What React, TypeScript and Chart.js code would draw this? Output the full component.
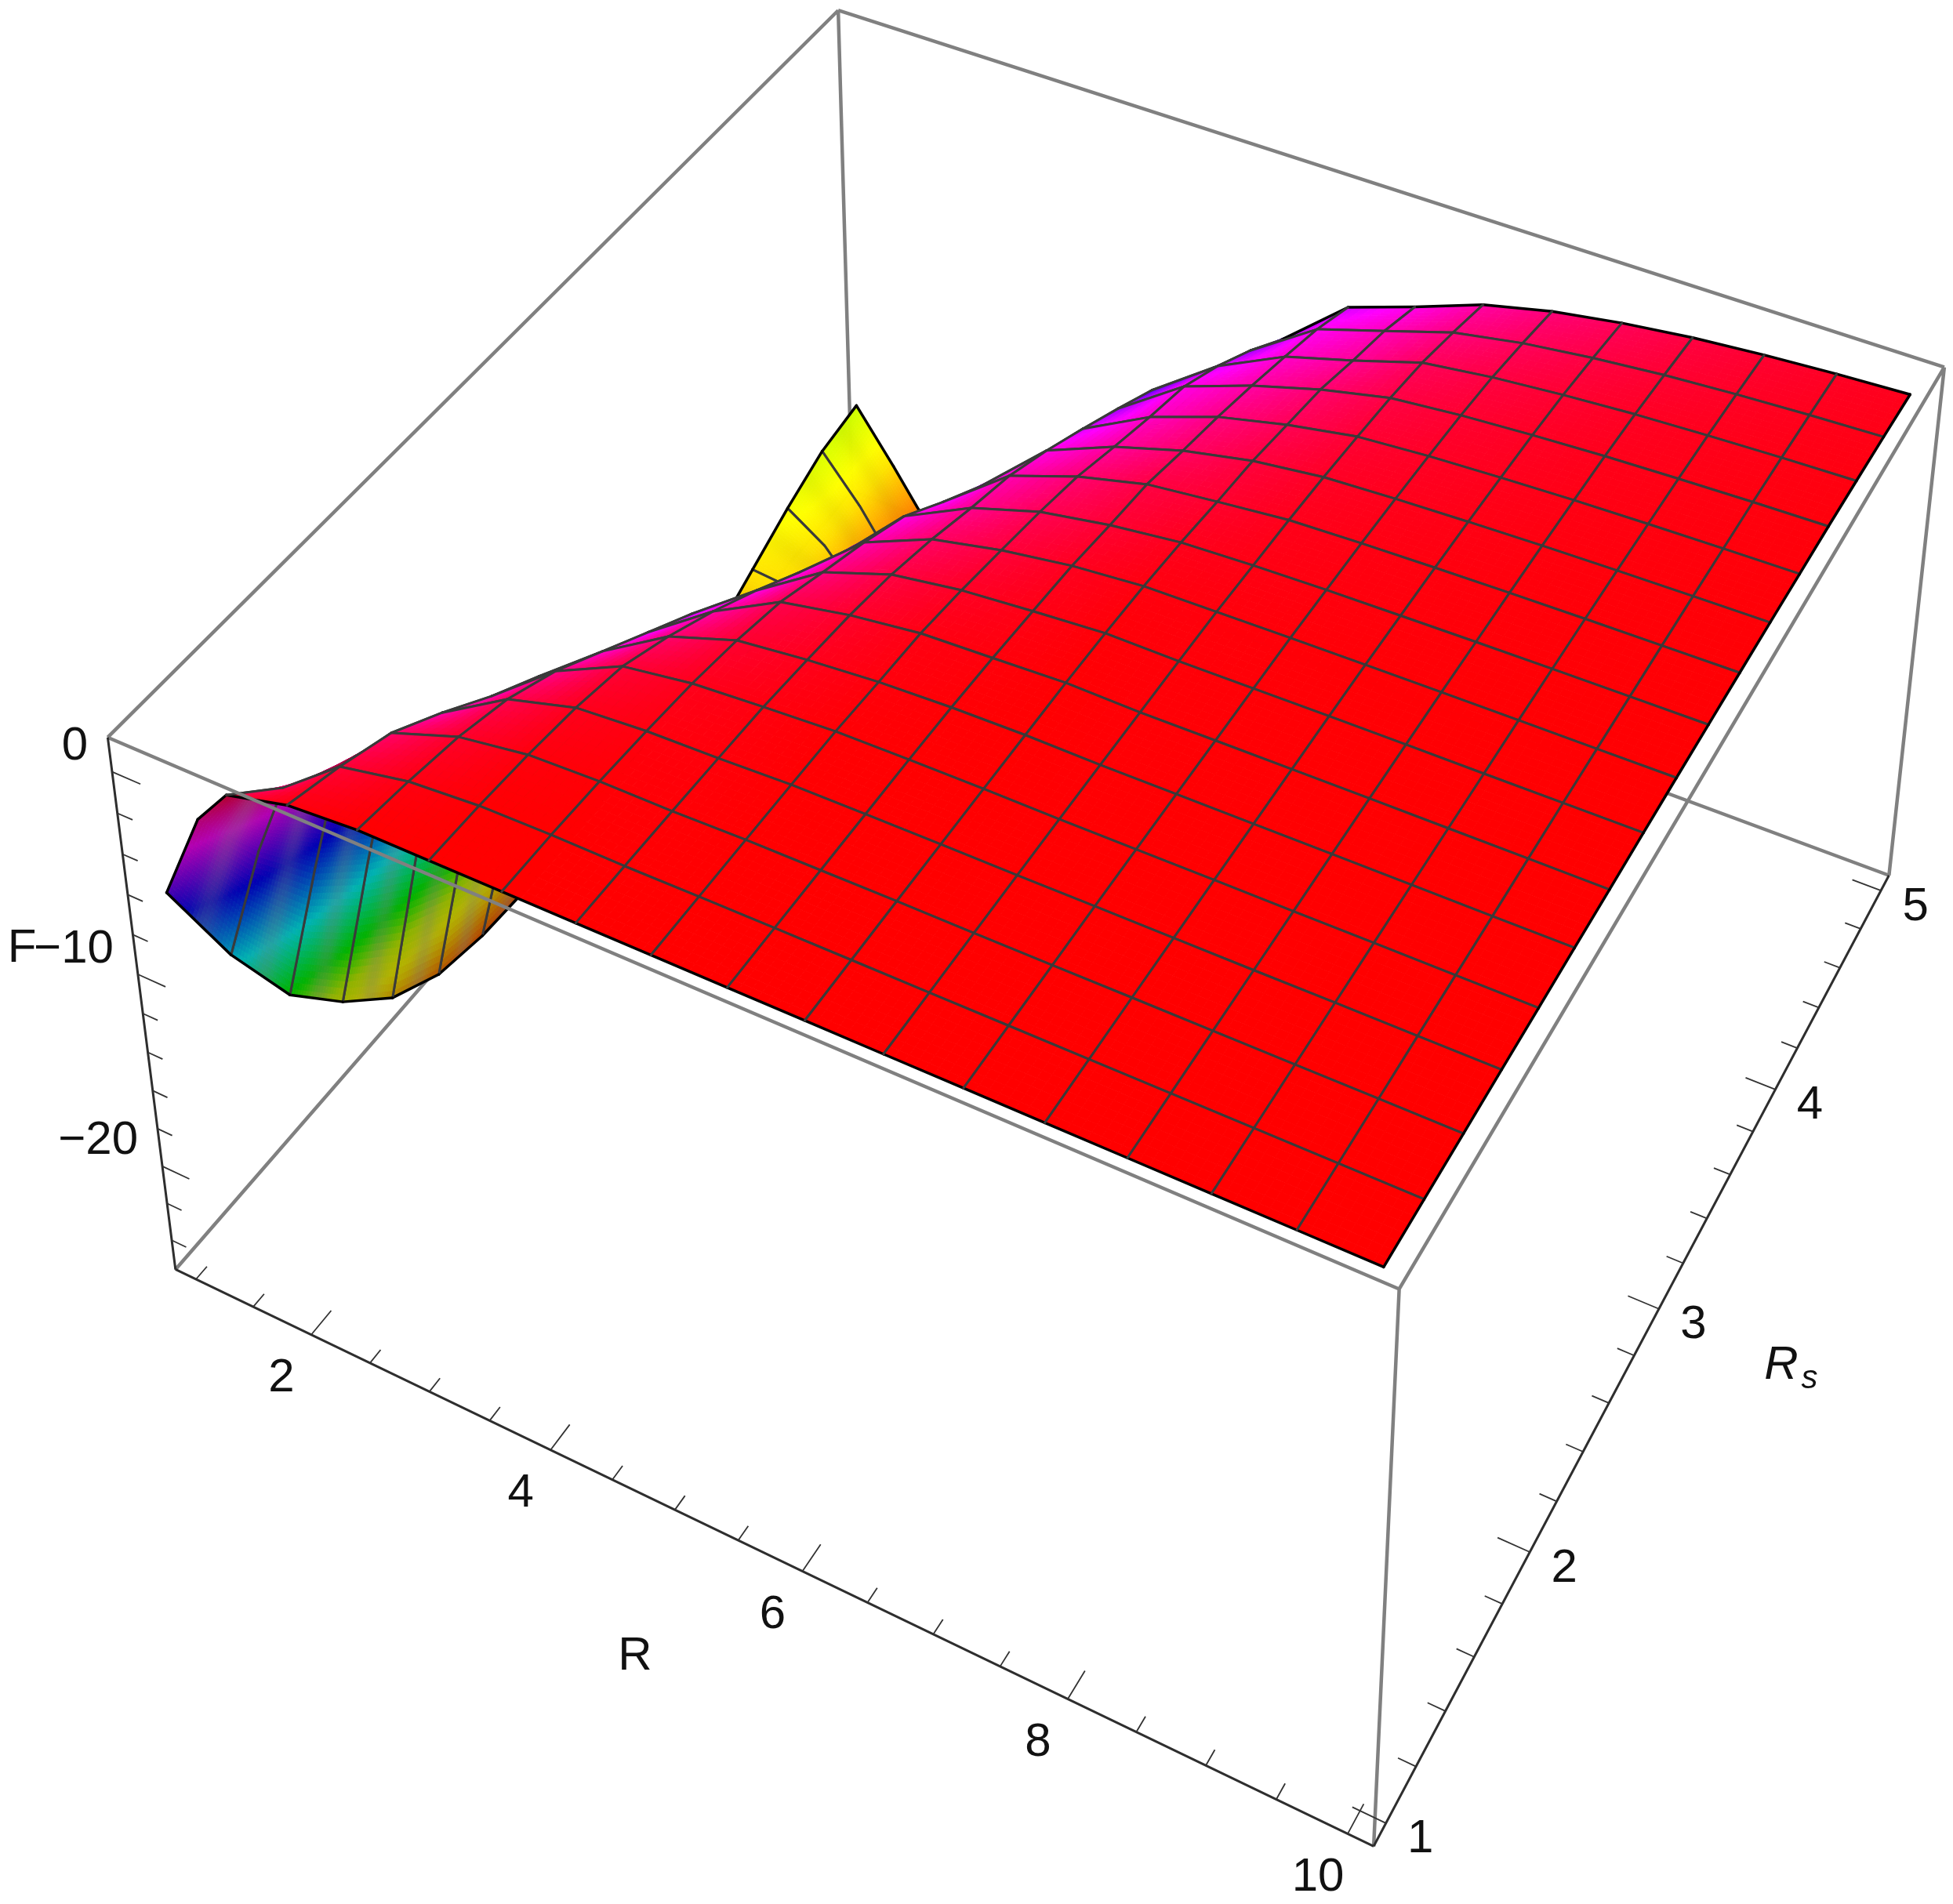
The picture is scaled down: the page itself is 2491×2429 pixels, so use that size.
import React, { useEffect, useRef } from "react";
import { Chart, registerables } from "chart.js";

Chart.register(...registerables);

const WIDTH = 2491;
const HEIGHT = 2429;

// Value ranges of the plot box
const boxR = [0.82, 10.18];
const boxRs = [0.92, 5.08];
const boxF = [-25.6, 1.65];

// Sample positions of the surface
const meshR = [1, 1.35, 1.62, 2.125, 2.6875, 3.25, 3.8125, 4.375, 4.9375, 5.5, 6.0625, 6.625, 7.1875, 7.75, 8.3125, 8.875, 9.4375, 10];
const meshRs = [1, 1.25, 1.5, 1.75, 2, 2.25, 2.5, 2.75, 3, 3.25, 3.5, 3.75, 4, 4.25, 4.5, 4.75, 5];
const unmeshedR = [1.35];

// F, one list per R sample
const fAtR0 = [-6.3, -12.2, -17.1, -20.3, -22.9, -24.4, -25, -25.2, -25.2, -25.2, -24.8, -24.4, -23.2, -22, -20.8, -19.8, -19.4];
const fAtR1 = [-1.8, -6, -9.5, -12, -14, -15.8, -17.2, -18.2, -19.2, -20, -20.7, -21.4, -22, -22.2, -22.2, -22.2, -22.2];
const fAtR2 = [0.06, -2.2, -4, -6, -8, -10, -12, -13.5, -15, -16.5, -18, -20.5, -22, -23.2, -24, -24.5, -24.5];
const fAtR3 = [0.85, 0.09, -0.85, -2.4, -4.1, -5.6, -7.5, -9, -10.6, -12.2, -13.8, -15.4, -17, -18.5, -20, -21.3, -22.5];
const fAtR4 = [1.1, 0.78, 0.34, -0.37, -1.5, -3, -4.5, -6, -7.8, -9.5, -11, -12.6, -14.2, -15.8, -17.4, -19, -20.6];
const fAtR5 = [1.1, 1.04, 0.87, 0.58, 0.08, -0.93, -2.13, -3.5, -5, -6.5, -8, -9.6, -11.2, -12.8, -14.4, -16, -17.6];
const fAtR6 = [1.1, 1.09, 1, 0.83, 0.6, 0.21, -0.35, -1.28, -2.17, -3.2, -4.8, -6.3, -7.7, -9.1, -10.4, -12.8, -14.5];
const fAtR7 = [1.1, 1.06, 1, 0.92, 0.83, 0.6, 0.32, -0.1, -0.73, -1.51, -2.2, -3.2, -4.35, -5.55, -6.8, -8.6, -10.6];
const fAtR8 = [1.1, 1.09, 1.08, 1.06, 1.03, 0.88, 0.76, 0.43, 0.01, -0.44, -0.99, -1.78, -2.52, -3.17, -4.32, -5.7, -7.3];
const fAtR9 = [1.1, 1.1, 1.09, 1.08, 1.07, 1.02, 0.9, 0.72, 0.53, 0.17, -0.13, -0.74, -1.29, -1.93, -2.64, -3.39, -4.39];
const fAtR10 = [1.1, 1.1, 1.1, 1.09, 1.08, 1.07, 1.05, 0.97, 0.83, 0.59, 0.26, -0.01, -0.47, -0.92, -1.65, -2.3, -3.2];
const fAtR11 = [1.1, 1.1, 1.09, 1.08, 1.06, 1.03, 0.99, 0.95, 0.89, 0.75, 0.62, 0.42, 0.16, -0.14, -0.56, -1.2, -1.92];
const fAtR12 = [1.1, 1.1, 1.09, 1.09, 1.07, 1.05, 1.02, 0.99, 0.95, 0.85, 0.75, 0.6, 0.42, 0.2, -0.11, -0.57, -1.1];
const fAtR13 = [1.1, 1.1, 1.1, 1.09, 1.08, 1.06, 1.04, 1.02, 0.99, 0.91, 0.84, 0.73, 0.59, 0.43, 0.2, -0.14, -0.53];
const fAtR14 = [1.1, 1.1, 1.1, 1.09, 1.08, 1.07, 1.06, 1.04, 1.02, 0.96, 0.91, 0.83, 0.73, 0.61, 0.44, 0.19, -0.1];
const fAtR15 = [1.1, 1.1, 1.1, 1.1, 1.09, 1.08, 1.07, 1.05, 1.04, 1, 0.96, 0.9, 0.82, 0.73, 0.6, 0.42, 0.2];
const fAtR16 = [1.1, 1.1, 1.1, 1.1, 1.09, 1.08, 1.08, 1.07, 1.05, 1.02, 0.99, 0.95, 0.89, 0.83, 0.73, 0.59, 0.43];
const fAtR17 = [1.1, 1.1, 1.1, 1.1, 1.09, 1.09, 1.08, 1.08, 1.07, 1.04, 1.02, 0.99, 0.94, 0.9, 0.82, 0.72, 0.6];
const surfaceF = [fAtR0, fAtR1, fAtR2, fAtR3, fAtR4, fAtR5, fAtR6, fAtR7, fAtR8, fAtR9, fAtR10, fAtR11, fAtR12, fAtR13, fAtR14, fAtR15, fAtR16, fAtR17];

// Ticks
const rTicks = [1, 1.5, 2, 2.5, 3, 3.5, 4, 4.5, 5, 5.5, 6, 6.5, 7, 7.5, 8, 8.5, 9, 9.5, 10];
const rLabels = [2, 4, 6, 8, 10];
const rsTicks = [1, 1.2, 1.4, 1.6, 1.8, 2, 2.2, 2.4, 2.6, 2.8, 3, 3.2, 3.4, 3.6, 3.8, 4, 4.2, 4.4, 4.6, 4.8, 5];
const rsLabels = [1, 2, 3, 4, 5];
const fTicks = [0, -2, -4, -6, -8, -10, -12, -14, -16, -18, -20, -22, -24];
const fLabels = [0, -10, -20];

// Colour scale of the surface: hue (0..1) at given F
const colourF = [-27, -25, -22, -19.4, -17, -13, -8, -3.7, 1.1];
const colourHue = [0, 0.06, 0.15, 0.2, 0.33, 0.5, 0.67, 0.83, 1];

// Where the box corners sit in the view: [u, v, w] of the unit box -> axis units of the chart
const viewCalibration: number[][] = [
  [0, 0, 1, 138, 941],
  [0, 0, 0, 223, 1619],
  [1, 0, 1, 1784, 1645],
  [1, 0, 0, 1753, 2355],
  [1, 1, 1, 2480, 468],
  [1, 1, 0, 2409, 1117],
  [0, 1, 1, 1069, 13],
  [0, 1, 0, 1087, 627],
];

function solveCamera(): number[] {
  const n = 11;
  const m = Array.from({ length: n }, () => new Array(n + 1).fill(0));
  const addRow = (row: number[], rhs: number) => {
    for (let a = 0; a < n; a++) {
      for (let b = 0; b < n; b++) m[a][b] += row[a] * row[b];
      m[a][n] += row[a] * rhs;
    }
  };
  for (const [u, v, w, x, y] of viewCalibration) {
    addRow([u, v, w, 1, 0, 0, 0, 0, -x * u, -x * v, -x * w], x);
    addRow([0, 0, 0, 0, u, v, w, 1, -y * u, -y * v, -y * w], y);
  }
  for (let c = 0; c < n; c++) {
    let p = c;
    for (let r = c + 1; r < n; r++) if (Math.abs(m[r][c]) > Math.abs(m[p][c])) p = r;
    [m[c], m[p]] = [m[p], m[c]];
    for (let r = 0; r < n; r++) {
      if (r === c) continue;
      const k = m[r][c] / m[c][c];
      for (let q = c; q <= n; q++) m[r][q] -= k * m[c][q];
    }
  }
  return m.map((row, i) => row[n] / row[i]);
}

const cam = solveCamera();

function project(R: number, Rs: number, F: number) {
  const u = (R - boxR[0]) / (boxR[1] - boxR[0]);
  const v = (Rs - boxRs[0]) / (boxRs[1] - boxRs[0]);
  const w = (F - boxF[0]) / (boxF[1] - boxF[0]);
  const d = cam[8] * u + cam[9] * v + cam[10] * w + 1;
  return {
    x: (cam[0] * u + cam[1] * v + cam[2] * w + cam[3]) / d,
    y: (cam[4] * u + cam[5] * v + cam[6] * w + cam[7]) / d,
  };
}

const GAP = { x: NaN, y: NaN };
const seg = (a: number[], b: number[]) => [project(a[0], a[1], a[2]), project(b[0], b[1], b[2]), GAP];

const [r0, r1] = boxR;
const [s0, s1] = boxRs;
const [f0, f1] = boxF;

const backEdges = [
  ...seg([r0, s0, f1], [r0, s1, f1]),
  ...seg([r0, s1, f1], [r1, s1, f1]),
  ...seg([r0, s1, f1], [r0, s1, f0]),
  ...seg([r0, s0, f0], [r0, s1, f0]),
  ...seg([r0, s1, f0], [r1, s1, f0]),
];
const frontEdges = [
  ...seg([r0, s0, f1], [r1, s0, f1]),
  ...seg([r1, s0, f1], [r1, s1, f1]),
  ...seg([r1, s0, f1], [r1, s0, f0]),
  ...seg([r1, s1, f1], [r1, s1, f0]),
];
const axisLines = [
  ...seg([r0, s0, f1], [r0, s0, f0]),
  ...seg([r0, s0, f0], [r1, s0, f0]),
  ...seg([r1, s0, f0], [r1, s1, f0]),
];
const MAJOR = 0.025;
const MINOR = 0.0135;
const tickLines = [
  ...rTicks.flatMap((t) => seg([t, s0, f0], [t, s0 + (rLabels.includes(t) ? MAJOR : MINOR) * (s1 - s0), f0])),
  ...rsTicks.flatMap((t) => seg([r1, t, f0], [r1 - (rsLabels.includes(t) ? MAJOR : MINOR) * (r1 - r0), t, f0])),
  ...fTicks.flatMap((t) => seg([r0, s0, t], [r0 + (fLabels.includes(t) ? MAJOR : MINOR) * (r1 - r0), s0, t])),
];
const surfaceVertices = meshR.flatMap((R, i) => meshRs.map((Rs, j) => project(R, Rs, surfaceF[i][j])));

function hueOf(F: number) {
  for (let k = 0; k < colourF.length - 1; k++) {
    if (F <= colourF[k + 1]) {
      const t = (F - colourF[k]) / (colourF[k + 1] - colourF[k]);
      return colourHue[k] + t * (colourHue[k + 1] - colourHue[k]);
    }
  }
  return 1;
}

function colourOf(F: number, under: boolean, streak: number) {
  const hue = hueOf(F) * 360;
  if (under) return `hsl(${hue},${100 - 35 * streak}%,${35 + 4 * streak}%)`;
  return `hsl(${hue},100%,${50 - 2 * streak}%)`;
}

const surfacePlugin = {
  id: "surfacePlugin",
  afterDatasetDraw(chart: any, args: any) {
    if (chart.data.datasets[args.index].label !== "surface") return;
    const { ctx } = chart;
    const X = chart.scales.x;
    const Y = chart.scales.y;
    const nJ = meshRs.length;
    const pts = chart.data.datasets[args.index].data.map((p: any) => ({
      x: X.getPixelForValue(p.x),
      y: Y.getPixelForValue(p.y),
    }));
    ctx.save();
    ctx.lineJoin = "round";
    ctx.lineCap = "round";
    const edge = (a: any, b: any, boundary: boolean) => {
      ctx.beginPath();
      ctx.moveTo(a.x, a.y);
      ctx.lineTo(b.x, b.y);
      ctx.strokeStyle = boundary ? "#000000" : "#3a3a3a";
      ctx.lineWidth = boundary ? 3.5 : 3;
      ctx.stroke();
    };
    // far cells first: R grows towards the viewer, Rs shrinks towards the viewer
    for (let i = 0; i < meshR.length - 1; i++) {
      const SUB = i < 2 ? 20 : 8;
      for (let j = nJ - 2; j >= 0; j--) {
        const p00 = pts[i * nJ + j];
        const p01 = pts[i * nJ + j + 1];
        const p10 = pts[(i + 1) * nJ + j];
        const p11 = pts[(i + 1) * nJ + j + 1];
        const area = (p01.x - p00.x) * (p10.y - p00.y) - (p01.y - p00.y) * (p10.x - p00.x);
        const under = area < 0;
        const Fa = surfaceF[i][j], Fb = surfaceF[i][j + 1], Fc = surfaceF[i + 1][j], Fd = surfaceF[i + 1][j + 1];
        const at = (s: number, t: number) => ({
          x: (1 - s) * ((1 - t) * p00.x + t * p01.x) + s * ((1 - t) * p10.x + t * p11.x),
          y: (1 - s) * ((1 - t) * p00.y + t * p01.y) + s * ((1 - t) * p10.y + t * p11.y),
          f: (1 - s) * ((1 - t) * Fa + t * Fb) + s * ((1 - t) * Fc + t * Fd),
        });
        for (let a = 0; a < SUB; a++) {
          for (let b = 0; b < SUB; b++) {
            const q0 = at(a / SUB, b / SUB);
            const q1 = at(a / SUB, (b + 1) / SUB);
            const q2 = at((a + 1) / SUB, (b + 1) / SUB);
            const q3 = at((a + 1) / SUB, b / SUB);
            const tt = (b + 0.5) / SUB;
            const streak = i < 2 ? Math.exp(-(((tt - 0.55) / 0.2) ** 2)) : 0;
            const c = colourOf((q0.f + q1.f + q2.f + q3.f) / 4, under, streak);
            ctx.beginPath();
            ctx.moveTo(q0.x, q0.y);
            ctx.lineTo(q1.x, q1.y);
            ctx.lineTo(q2.x, q2.y);
            ctx.lineTo(q3.x, q3.y);
            ctx.closePath();
            ctx.fillStyle = c;
            ctx.strokeStyle = c;
            ctx.lineWidth = 1;
            ctx.fill();
            ctx.stroke();
          }
        }
        edge(p00, p10, j === 0);
        edge(p01, p11, j === nJ - 2);
        if (i === 0 || !unmeshedR.includes(meshR[i])) edge(p00, p01, i === 0);
        if (!unmeshedR.includes(meshR[i + 1])) edge(p10, p11, i === meshR.length - 2);
      }
    }
    ctx.restore();
  },
};

const labelPlugin = {
  id: "labelPlugin",
  afterDraw(chart: any) {
    const { ctx } = chart;
    const X = chart.scales.x;
    const Y = chart.scales.y;
    const px = (p: { x: number; y: number }) => ({ x: X.getPixelForValue(p.x), y: Y.getPixelForValue(p.y) });
    ctx.save();
    ctx.fillStyle = "#111111";
    ctx.font = '60px "Liberation Sans"';
    ctx.textBaseline = "middle";
    ctx.textAlign = "center";
    for (const t of rLabels) {
      const p = px(project(t, s0, f0));
      ctx.fillText(String(t), p.x - 38, p.y + 56);
    }
    for (const t of rsLabels) {
      const p = px(project(r1, t, f0));
      ctx.fillText(String(t), p.x + 44, p.y + 21);
    }
    ctx.textAlign = "right";
    for (const t of fLabels) {
      const p = px(project(r0, s0, t));
      ctx.fillText(String(t).replace("-", "\u2212"), p.x - 31, p.y - 32);
    }
    ctx.textAlign = "center";
    ctx.fillText("F", 28, 1210);
    ctx.fillText("R", 810, 2113);
    ctx.font = 'italic 60px "Liberation Sans"';
    ctx.fillText("R", 2272, 1742);
    ctx.font = 'italic 42px "Liberation Sans"';
    ctx.fillText("s", 2308, 1759);
    ctx.restore();
  },
};

const line = (label: string, data: any[], color: string, width: number, order: number) => ({
  label,
  data,
  showLine: true,
  borderColor: color,
  borderWidth: width,
  pointRadius: 0,
  tension: 0,
  spanGaps: false,
  fill: false,
  order,
});

export default function App() {
  const ref = useRef<HTMLCanvasElement>(null);
  useEffect(() => {
    const chart = new Chart(ref.current as HTMLCanvasElement, {
      type: "scatter",
      data: {
        datasets: [
          line("tickLines", tickLines, "#333333", 1.8, 0),
          line("axisLines", axisLines, "#2e2e2e", 3, 1),
          line("frontEdges", frontEdges, "#808080", 4.5, 2),
          { ...line("surface", surfaceVertices, "rgba(0,0,0,0)", 0, 3), showLine: false },
          line("backEdges", backEdges, "#808080", 4.5, 4),
        ],
      } as any,
      options: {
        responsive: false,
        animation: false,
        devicePixelRatio: 1,
        layout: { padding: 0 },
        plugins: { legend: { display: false }, tooltip: { enabled: false }, title: { display: false } },
        scales: {
          x: { type: "linear", min: 0, max: WIDTH, display: false },
          y: { type: "linear", min: 0, max: HEIGHT, reverse: true, display: false },
        },
        events: [],
      } as any,
      plugins: [surfacePlugin, labelPlugin],
    });
    return () => chart.destroy();
  }, []);
  return (
    <div style={{ position: "fixed", left: 0, top: 0, width: WIDTH, height: HEIGHT, background: "#ffffff" }}>
      <canvas ref={ref} width={WIDTH} height={HEIGHT} style={{ display: "block" }} />
    </div>
  );
}
